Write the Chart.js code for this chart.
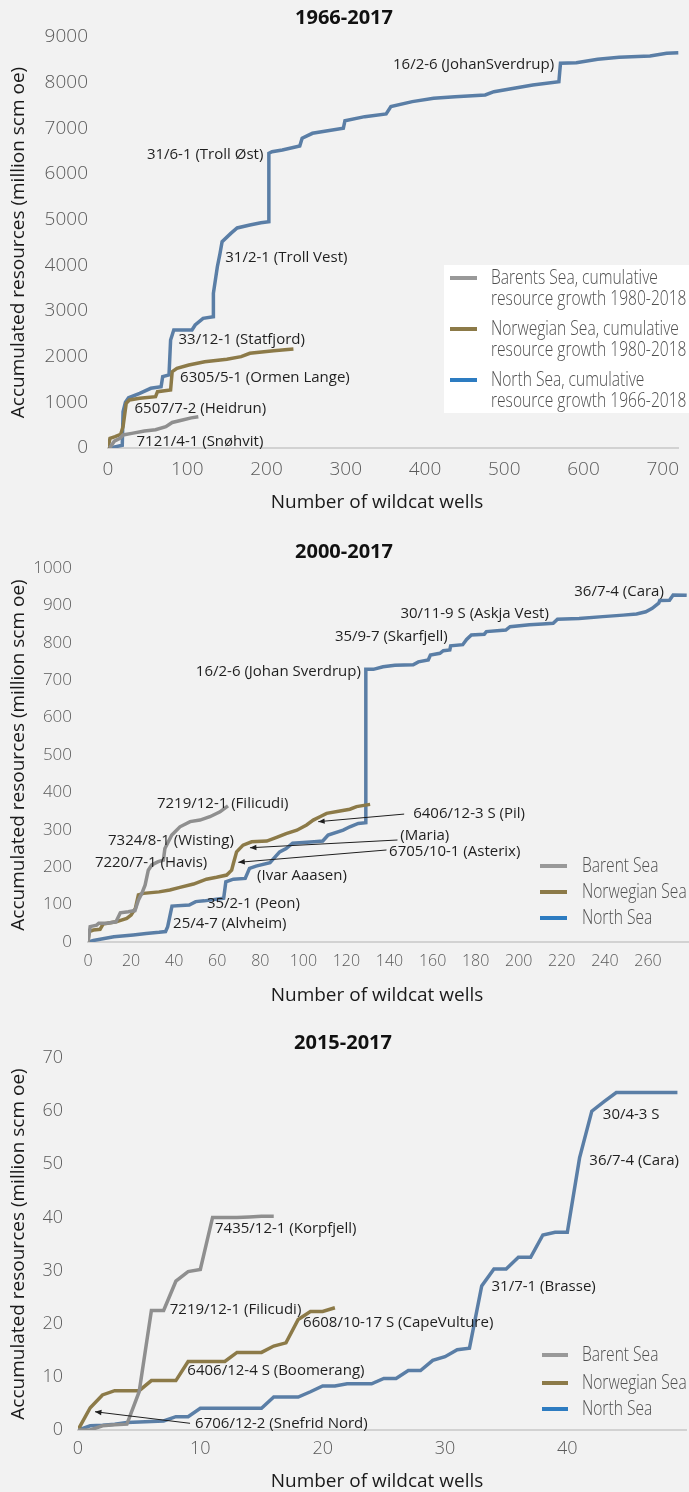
<!DOCTYPE html>
<html>
<head>
<meta charset="utf-8">
<title>Accumulated resources vs wildcat wells</title>
<script src="https://cdn.jsdelivr.net/npm/chart.js@4.4.1/dist/chart.umd.min.js"></script>
<style>
  html, body { margin: 0; padding: 0; background: #f2f2f2; }
  .panel { position: absolute; left: 0; width: 689px; }
  canvas { display: block; }
</style>
</head>
<body>
<div class="panel" style="top:0;height:515px"><canvas id="chart-1966" width="689" height="515"></canvas></div>
<div class="panel" style="top:515px;height:495px"><canvas id="chart-2000" width="689" height="495"></canvas></div>
<div class="panel" style="top:1010px;height:482px"><canvas id="chart-2015" width="689" height="482"></canvas></div>
<script>
// ---- 1966-2017 (wells, million scm oe)
const barentsWells1966 = [2, 8, 15, 19, 30, 46, 60, 73, 81, 94, 105, 114];
const barentsRes1966 = [0, 150, 210, 285, 320, 370, 400, 467, 560, 613, 660, 686];
const norwegianWells1966 = [0, 2.5, 9, 16, 19, 23, 27, 40, 60, 62.5, 79, 81, 87, 102, 122, 150, 168, 179, 209, 234];
const norwegianRes1966 = [0, 212, 247, 300, 467, 979, 1051, 1088, 1124, 1233, 1270, 1671, 1745, 1818, 1890, 1942, 2000, 2074, 2131, 2168];
const northWells1966 = [2, 10, 18, 19, 22, 26, 40, 54, 67, 69, 77, 79, 83, 106, 110, 120, 133, 133, 138, 141, 144, 155, 163, 179, 193, 203, 203, 207, 220, 242, 245, 258, 297, 299, 324, 351, 357, 384, 411, 438, 476, 487, 536, 569, 571, 591, 618, 645, 684, 705, 720];
const northRes1966 = [0, 30, 60, 795, 1000, 1100, 1198, 1307, 1343, 1562, 1600, 2365, 2584, 2584, 2694, 2840, 2876, 3387, 3970, 4227, 4518, 4700, 4818, 4884, 4934, 4956, 6454, 6489, 6526, 6614, 6782, 6891, 7001, 7168, 7256, 7315, 7475, 7585, 7658, 7694, 7731, 7803, 7950, 8022, 8425, 8438, 8512, 8556, 8585, 8644, 8657];
const notes1966 = [
  { text: '16/2-6 (JohanSverdrup)', x: 563, y: 8388, align: 'right' },
  { text: '31/6-1 (Troll Øst)', x: 196, y: 6417, align: 'right' },
  { text: '31/2-1 (Troll Vest)', x: 148, y: 4161 },
  { text: '33/12-1 (Statfjord)', x: 89, y: 2365 },
  { text: '6305/5-1 (Ormen Lange)', x: 91, y: 1533 },
  { text: '6507/7-2 (Heidrun)', x: 33.5, y: 854 },
  { text: '7121/4-1 (Snøhvit)', x: 36, y: 138 },
];

// ---- 2000-2017
const barentsWells2000 = [0, 1, 4, 5, 8.7, 13, 15, 18.7, 21.8, 23.4, 25, 26.5, 28, 29.6, 32.6, 35, 35.7, 37.3, 38.9, 42.7, 47.4, 52, 56.6, 61.3, 65];
const barentsRes2000 = [0, 41, 45, 50, 50, 54, 78, 81, 84, 112, 130, 152, 192, 206, 215, 219, 250, 268, 286, 308, 322, 326, 335, 348, 364];
const norwegianWells2000 = [0, 0.5, 2.5, 5.6, 7, 13, 18, 20, 22, 23.4, 25.7, 33, 38, 42.7, 49, 55, 59.7, 64.4, 66.7, 67.5, 69, 72, 76, 83, 87.6, 92, 97, 101.5, 104.6, 107.7, 110.8, 117, 121.6, 124.7, 131];
const norwegianRes2000 = [0, 28, 32, 34, 48, 54, 63, 72, 90, 126, 130, 134, 139, 146, 155, 168, 173, 179, 192, 210, 241, 259, 268, 270, 280, 290, 299, 313, 326, 335, 344, 350, 355, 362, 368];
const northWells2000 = [0, 2.5, 12, 21, 27, 33, 36, 37, 39, 47, 50, 54, 63, 64, 67.5, 73, 75, 78, 84.5, 89, 92, 95, 105, 109, 111.5, 118.5, 121.6, 125.5, 129, 129, 132.5, 137, 142.5, 151, 153.4, 158, 159, 163.4, 165, 168, 168.4, 174, 175.8, 178, 184, 185, 194, 196, 205, 211, 216, 218, 228, 239, 248.5, 254.7, 259, 262, 265, 265.5, 270, 271.7, 278];
const northRes2000 = [0, 4, 14, 19, 23, 26, 28, 41, 96, 99, 108, 110, 117, 161, 168, 170, 197, 203, 212, 241, 250, 264, 268, 270, 286, 299, 308, 317, 319, 729, 729, 736, 740, 741, 749, 754, 767, 772, 779, 781, 792, 795, 809, 821, 823, 830, 834, 843, 848, 850, 852, 863, 865, 870, 874, 877, 883, 892, 906, 913, 914, 928, 927];
const notes2000 = [
  { text: '36/7-4 (Cara)', x: 267.4, y: 937, align: 'right' },
  { text: '30/11-9 S (Askja Vest)', x: 214, y: 879, align: 'right' },
  { text: '35/9-7 (Skarfjell)', x: 167, y: 815, align: 'right' },
  { text: '16/2-6 (Johan Sverdrup)', x: 126.7, y: 723, align: 'right' },
  { text: '7219/12-1 (Filicudi)', x: 32, y: 369 },
  { text: '7324/8-1 (Wisting)', x: 9.3, y: 271 },
  { text: '7220/7-1 (Havis)', x: 3.2, y: 212 },
  { text: '(Ivar Aaasen)', x: 78.5, y: 177 },
  { text: '35/2-1 (Peon)', x: 55.2, y: 102 },
  { text: '25/4-7 (Alvheim)', x: 39.5, y: 50 },
  { text: '6406/12-3 S (Pil)', x: 151, y: 344, arrowFrom: [146.8, 342], arrowTo: [106.9, 321.7] },
  { text: '(Maria)', x: 145, y: 284, arrowFrom: [143.7, 272.7], arrowTo: [75.2, 252] },
  { text: '6705/10-1 (Asterix)', x: 139.8, y: 241, arrowFrom: [138.6, 246], arrowTo: [69.8, 213] },
];

// ---- 2015-2017 (one value per well, starting at well 0)
const barentsRes2015 = [0, 0, 0.8, 1, 1.1, 7.2, 22.5, 22.5, 28, 29.8, 30.2, 40, 40, 40, 40.1, 40.2, 40.2];
const norwegianRes2015 = [0, 4.2, 6.6, 7.4, 7.4, 7.4, 9.3, 9.3, 9.3, 12.9, 12.9, 12.9, 12.9, 14.6, 14.6, 14.6, 15.8, 16.4, 20.8, 22.3, 22.3, 23.0];
const northRes2015 = [0, 0.8, 0.9, 1.1, 1.4, 1.5, 1.6, 1.7, 2.5, 2.5, 4.1, 4.1, 4.1, 4.1, 4.1, 4.1, 6.2, 6.2, 6.2, 7.2, 8.3, 8.3, 8.7, 8.7, 8.7, 9.7, 9.7, 11.2, 11.2, 13.1, 13.8, 15.1, 15.4, 27.1, 30.3, 30.3, 32.5, 32.5, 36.7, 37.2, 37.2, 51.2, 60, 61.8, 63.5, 63.5, 63.5, 63.5, 63.5, 63.5];
const notes2015 = [
  { text: '30/4-3 S', x: 42.9, y: 59.3 },
  { text: '36/7-4 (Cara)', x: 41.8, y: 50.7 },
  { text: '7435/12-1 (Korpfjell)', x: 11.2, y: 37.8 },
  { text: '31/7-1 (Brasse)', x: 33.8, y: 26.9 },
  { text: '7219/12-1 (Filicudi)', x: 7.5, y: 22.6 },
  { text: '6608/10-17 S (CapeVulture)', x: 18.4, y: 20.1 },
  { text: '6406/12-4 S (Boomerang)', x: 8.94, y: 11.2 },
  { text: '6706/12-2 (Snefrid Nord)', x: 9.57, y: 1.26, arrowFrom: [9.16, 1.26], arrowTo: [1.39, 3.44] },
];

const BODY_FONT = "'Open Sans', 'Noto Sans', sans-serif";
const LINE_COLORS = { barents: '#8f8f8f', norwegian: '#8c7a48', north: '#5a7ea6' };
const KEY_COLORS = { barents: '#999999', norwegian: '#8c7a48', north: '#2d7cc1' };
// legend text in the original is a condensed face; squeeze Open Sans to match
const KEY_SQUEEZE = 0.76;

function toPoints(xs, ys) {
  return xs.map((x, i) => ({ x, y: ys[i] }));
}

function indexPoints(ys) {
  return ys.map((y, i) => ({ x: i, y }));
}

function seaDataset(label, points, sea) {
  return {
    label,
    data: points,
    borderColor: LINE_COLORS[sea],
    keyColor: KEY_COLORS[sea],
    borderWidth: 3.5,
    pointRadius: 0,
    tension: 0,
    fill: false,
  };
}

function drawArrow(ctx, x1, y1, x2, y2) {
  const angle = Math.atan2(y2 - y1, x2 - x1);
  ctx.beginPath();
  ctx.moveTo(x1, y1);
  ctx.lineTo(x2, y2);
  ctx.stroke();
  ctx.beginPath();
  ctx.moveTo(x2, y2);
  ctx.lineTo(x2 - 7 * Math.cos(angle - 0.4), y2 - 7 * Math.sin(angle - 0.4));
  ctx.lineTo(x2 - 7 * Math.cos(angle + 0.4), y2 - 7 * Math.sin(angle + 0.4));
  ctx.closePath();
  ctx.fill();
}

// well labels, legend and x title drawn on top of the lines
const overlayPlugin = {
  id: 'overlay',
  afterDatasetsDraw(chart, _args, opts) {
    const { ctx, scales } = chart;
    ctx.save();
    ctx.textBaseline = 'middle';

    const key = opts.key;
    if (key) {
      if (key.box) {
        ctx.fillStyle = '#ffffff';
        ctx.fillRect(key.box[0], key.box[1], key.box[2], key.box[3]);
      }
      ctx.font = `300 20.5px ${BODY_FONT}`;
      ctx.textAlign = 'left';
      chart.data.datasets.forEach((ds, i) => {
        const rowY = key.rows[i];
        ctx.strokeStyle = ds.keyColor;
        ctx.lineWidth = 4;
        ctx.beginPath();
        ctx.moveTo(key.lineX, rowY);
        ctx.lineTo(key.lineX + key.lineW, rowY);
        ctx.stroke();
        ctx.fillStyle = '#4f4f4f';
        ds.label.split('\n').forEach((line, j) => {
          ctx.save();
          ctx.translate(key.textX, rowY + j * key.lineGap);
          ctx.scale(KEY_SQUEEZE, 1);
          ctx.fillText(line, 0, 0);
          ctx.restore();
        });
      });
    }

    ctx.font = `15px ${BODY_FONT}`;
    ctx.fillStyle = '#1f1f1f';
    ctx.strokeStyle = '#1f1f1f';
    ctx.lineWidth = 1;
    (opts.notes || []).forEach((note) => {
      ctx.textAlign = note.align || 'left';
      ctx.fillText(note.text, scales.x.getPixelForValue(note.x), scales.y.getPixelForValue(note.y));
      if (note.arrowTo) {
        drawArrow(
          ctx,
          scales.x.getPixelForValue(note.arrowFrom[0]),
          scales.y.getPixelForValue(note.arrowFrom[1]),
          scales.x.getPixelForValue(note.arrowTo[0]),
          scales.y.getPixelForValue(note.arrowTo[1]),
        );
      }
    });

    if (opts.xTitle) {
      ctx.font = `19px ${BODY_FONT}`;
      ctx.fillStyle = '#1a1a1a';
      ctx.textAlign = 'center';
      ctx.fillText(opts.xTitle.text, opts.xTitle.x, opts.xTitle.y);
    }
    ctx.restore();
  },
};

function makeChart(canvasId, cfg) {
  const tickFont = (size) => ({ family: BODY_FONT, size, weight: 300 });
  return new Chart(document.getElementById(canvasId), {
    type: 'line',
    data: { datasets: cfg.datasets },
    options: {
      responsive: false,
      animation: false,
      layout: { padding: { left: 0, right: cfg.rightPad, top: 0, bottom: 0 } },
      plugins: {
        legend: { display: false },
        tooltip: { enabled: false },
        title: {
          display: true,
          text: cfg.title,
          color: '#111111',
          font: { family: BODY_FONT, size: 20, weight: 'bold' },
          padding: cfg.titlePad,
        },
        overlay: { notes: cfg.notes, key: cfg.key, xTitle: cfg.xTitle },
      },
      scales: {
        x: {
          type: 'linear',
          min: 0,
          max: cfg.xMax,
          grid: { display: false, drawTicks: false },
          border: { display: true, color: '#d2d2d2', width: 2 },
          ticks: {
            stepSize: cfg.xStep,
            includeBounds: false,
            padding: cfg.xTickPad,
            color: '#5a5a5a',
            font: tickFont(cfg.xTickSize),
            format: { useGrouping: false },
            maxRotation: 0,
          },
          afterFit: (scale) => { scale.height = cfg.xHeight; },
        },
        y: {
          min: 0,
          max: cfg.yMax,
          grid: { display: false, drawTicks: false },
          border: { display: false },
          ticks: {
            stepSize: cfg.yStep,
            padding: cfg.yTickPad,
            color: '#5a5a5a',
            font: tickFont(cfg.yTickSize),
            format: { useGrouping: false },
          },
          title: {
            display: true,
            text: 'Accumulated resources (million scm oe)',
            color: '#1a1a1a',
            font: { family: BODY_FONT, size: 19 },
            padding: { top: 7, bottom: 0 },
          },
          afterFit: (scale) => { scale.width = cfg.yWidth; },
        },
      },
    },
    plugins: [overlayPlugin],
  });
}

makeChart('chart-1966', {
  title: '1966-2017',
  titlePad: { top: 6, bottom: 7 },
  datasets: [
    seaDataset('Barents Sea, cumulative\nresource growth 1980-2018', toPoints(barentsWells1966, barentsRes1966), 'barents'),
    seaDataset('Norwegian Sea, cumulative\nresource growth 1980-2018', toPoints(norwegianWells1966, norwegianRes1966), 'norwegian'),
    seaDataset('North Sea, cumulative\nresource growth 1966-2018', toPoints(northWells1966, northRes1966), 'north'),
  ],
  notes: notes1966,
  key: { box: [444, 265, 245, 148], lineX: 450, lineW: 27, textX: 491, rows: [278, 329, 380], lineGap: 21.5 },
  xTitle: { text: 'Number of wildcat wells', x: 377, y: 503 },
  xMax: 720, xStep: 100, yMax: 9000, yStep: 1000,
  yWidth: 108, xHeight: 67, rightPad: 1,
  yTickSize: 19, xTickSize: 19, yTickPad: 20, xTickPad: 10,
});

makeChart('chart-2000', {
  title: '2000-2017',
  titlePad: { top: 25, bottom: 4 },
  datasets: [
    seaDataset('Barent Sea', toPoints(barentsWells2000, barentsRes2000), 'barents'),
    seaDataset('Norwegian Sea', toPoints(norwegianWells2000, norwegianRes2000), 'norwegian'),
    seaDataset('North Sea', toPoints(northWells2000, northRes2000), 'north'),
  ],
  notes: notes2000,
  key: { lineX: 540, lineW: 27, textX: 582, rows: [351, 377, 403], lineGap: 0 },
  xTitle: { text: 'Number of wildcat wells', x: 377, y: 481 },
  xMax: 278.6, xStep: 20, yMax: 1000, yStep: 100,
  yWidth: 88, xHeight: 68, rightPad: 1,
  yTickSize: 17, xTickSize: 16, yTickPad: 16, xTickPad: 10,
});

makeChart('chart-2015', {
  title: '2015-2017',
  titlePad: { top: 21, bottom: 3 },
  datasets: [
    seaDataset('Barent Sea', indexPoints(barentsRes2015), 'barents'),
    seaDataset('Norwegian Sea', indexPoints(norwegianRes2015), 'norwegian'),
    seaDataset('North Sea', indexPoints(northRes2015), 'north'),
  ],
  notes: notes2015,
  key: { lineX: 542, lineW: 26, textX: 582, rows: [345, 373, 399], lineGap: 0 },
  xTitle: { text: 'Number of wildcat wells', x: 377, y: 472 },
  xMax: 49.7, xStep: 10, yMax: 70, yStep: 10,
  yWidth: 78, xHeight: 62, rightPad: 3,
  yTickSize: 18, xTickSize: 18, yTickPad: 15, xTickPad: 8,
});
</script>
</body>
</html>
